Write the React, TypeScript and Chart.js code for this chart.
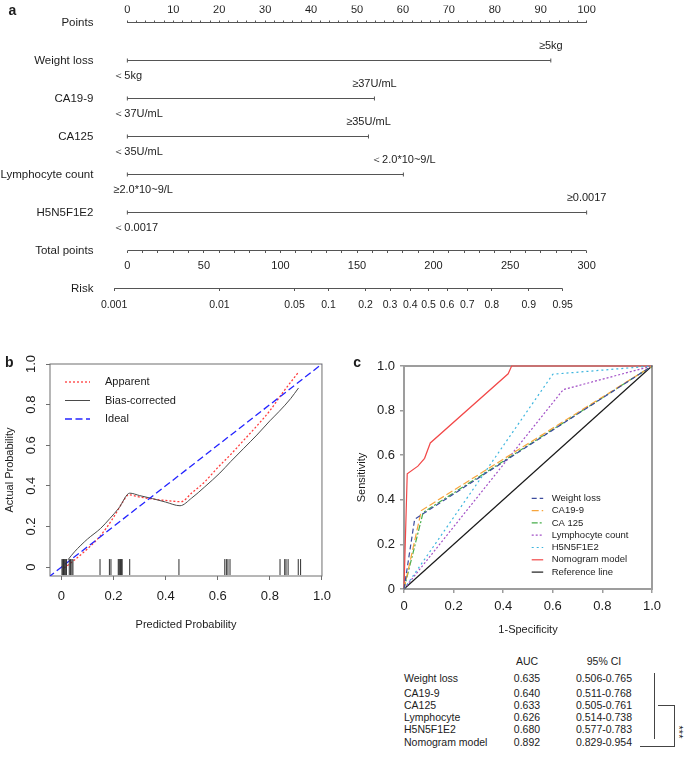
import React, { useEffect, useRef } from 'react';
import { Chart, registerables } from 'chart.js';

Chart.register(...registerables);

const FONT = "'Liberation Sans', Arial, Helvetica, sans-serif";
const INK = '#1c1c1c';
const AXIS_GRAY = '#555555';
Chart.defaults.font.family = FONT;
Chart.defaults.color = INK;

/* ---------------- a: nomogram ---------------- */
const NOMO_ROW_LABELS = ['Points', 'Weight loss', 'CA19-9', 'CA125', 'Lymphocyte count', 'H5N5F1E2', 'Total points', 'Risk'];
const NOMO_VARIABLES = ['Weight loss', 'CA19-9', 'CA125', 'Lymphocyte count', 'H5N5F1E2'];
const VAR_MAX_POINTS = [92.2, 53.8, 52.5, 60.1, 100];
const VAR_LEVEL_AT_ZERO = ['＜5kg', '＜37U/mL', '＜35U/mL', '≥2.0*10~9/L', '＜0.0017'];
const VAR_LEVEL_AT_MAX = ['≥5kg', '≥37U/mL', '≥35U/mL', '＜2.0*10~9/L', '≥0.0017'];
const POINTS_RANGE = [0, 100];
const POINTS_TICK_STEP = 2;
const POINTS_LABEL_STEP = 10;
const TOTAL_RANGE = [0, 300];
const TOTAL_TICK_STEP = 10;
const TOTAL_LABEL_STEP = 50;
const RISK_TICKS = [0.001, 0.01, 0.05, 0.1, 0.2, 0.3, 0.4, 0.5, 0.6, 0.7, 0.8, 0.9, 0.95];
const RISK_TICK_LABELS = ['0.001', '0.01', '0.05', '0.1', '0.2', '0.3', '0.4', '0.5', '0.6', '0.7', '0.8', '0.9', '0.95'];
const TOTAL_AT_RISK_HALF = 196.8;
const TOTAL_PER_LOGIT = 29.75;

/* ---------------- b: calibration ---------------- */
const CAL_APPARENT_X = [0.01, 0.05, 0.1, 0.15, 0.2, 0.235, 0.258, 0.3, 0.35, 0.4, 0.46, 0.5, 0.55, 0.6, 0.65, 0.7, 0.75, 0.8, 0.85, 0.91];
const CAL_APPARENT_Y = [-0.005, 0.035, 0.09, 0.155, 0.245, 0.32, 0.356, 0.345, 0.335, 0.328, 0.322, 0.365, 0.42, 0.49, 0.555, 0.625, 0.695, 0.77, 0.86, 0.96];
const CAL_BIAS_X = [0.025, 0.05, 0.1, 0.15, 0.185, 0.22, 0.262, 0.3, 0.35, 0.4, 0.455, 0.5, 0.55, 0.608, 0.65, 0.7, 0.75, 0.8, 0.836, 0.88, 0.91];
const CAL_BIAS_Y = [0.036, 0.075, 0.138, 0.19, 0.238, 0.29, 0.364, 0.352, 0.337, 0.32, 0.302, 0.34, 0.395, 0.463, 0.52, 0.585, 0.65, 0.72, 0.767, 0.83, 0.882];
const CAL_IDEAL = [-0.05, 1];
const CAL_RUG_X = [0.002, 0.005, 0.008, 0.011, 0.014, 0.017, 0.019, 0.03, 0.035, 0.04, 0.044, 0.148, 0.184, 0.19,
  0.218, 0.221, 0.224, 0.227, 0.23, 0.233, 0.262, 0.451, 0.627, 0.633, 0.639, 0.647, 0.839, 0.857, 0.862, 0.87, 0.909, 0.918];
const CAL_TICKS = [0, 0.2, 0.4, 0.6, 0.8, 1];
const CAL_TICK_LABELS = ['0', '0.2', '0.4', '0.6', '0.8', '1.0'];

/* ---------------- c: ROC ---------------- */
const ROC_LABELS = ['Weight loss', 'CA19-9', 'CA 125', 'Lymphocyte count', 'H5N5F1E2', 'Nomogram model', 'Reference line'];
const ROC_WEIGHT_FPR = [0, 0.043, 1];
const ROC_WEIGHT_TPR = [0, 0.313, 1];
const ROC_CA199_FPR = [0, 0.07, 1];
const ROC_CA199_TPR = [0, 0.352, 1];
const ROC_CA125_FPR = [0, 0.077, 1];
const ROC_CA125_TPR = [0, 0.343, 1];
const ROC_LYMPH_FPR = [0, 0.642, 1];
const ROC_LYMPH_TPR = [0, 0.894, 1];
const ROC_H5_FPR = [0, 0.6, 1];
const ROC_H5_TPR = [0, 0.963, 1];
const ROC_NOMO_FPR = [0, 0.013, 0.056, 0.083, 0.106, 0.42, 0.434, 1];
const ROC_NOMO_TPR = [0, 0.517, 0.551, 0.586, 0.655, 0.965, 1, 1];
const ROC_REF = [0, 1];
const ROC_TICKS = [0, 0.2, 0.4, 0.6, 0.8, 1];
const ROC_TICK_LABELS = ['0', '0.2', '0.4', '0.6', '0.8', '1.0'];

/* ---------------- table ---------------- */
const TABLE_HEADERS = ['AUC', '95% CI'];
const TABLE_NAMES = ['Weight loss', 'CA19-9', 'CA125', 'Lymphocyte', 'H5N5F1E2', 'Nomogram model'];
const TABLE_AUC = ['0.635', '0.640', '0.633', '0.626', '0.680', '0.892'];
const TABLE_CI = ['0.506-0.765', '0.511-0.768', '0.505-0.761', '0.514-0.738', '0.577-0.783', '0.829-0.954'];
const TABLE_SIGNIF = '***';

/* ---------------- helpers ---------------- */
const logit = (p: number) => Math.log(p / (1 - p));
const stepTicks = (lo: number, hi: number, step: number) => {
  const out: any[] = [];
  for (let v = lo; v <= hi + 1e-9; v += step) out.push({ value: Math.round(v * 1e6) / 1e6 });
  return out;
};
const isMultiple = (v: number, step: number) => Math.abs(v / step - Math.round(v / step)) < 1e-6;
const xy = (xs: number[], ys: number[]) => xs.map((x, i) => ({ x, y: ys[i] }));

const drawFrame = (chart: any, opts: any) => {
  const { ctx, chartArea: a } = chart;
  ctx.save();
  ctx.strokeStyle = opts.color;
  ctx.lineWidth = opts.width;
  ctx.strokeRect(a.left, a.top, a.right - a.left, a.bottom - a.top);
  ctx.restore();
};

const framePlugin = {
  id: 'frame',
  beforeDatasetsDraw(chart: any, _args: any, opts: any) {
    if (opts.under) drawFrame(chart, opts);
  },
  afterDatasetsDraw(chart: any, _args: any, opts: any) {
    if (!opts.under) drawFrame(chart, opts);
  },
};

const lineLegendPlugin = {
  id: 'lineLegend',
  afterDatasetsDraw(chart: any, _args: any, opts: any) {
    const { ctx } = chart;
    ctx.save();
    ctx.font = `${opts.fontSize}px ${FONT}`;
    ctx.textBaseline = 'middle';
    ctx.textAlign = 'left';
    opts.items.forEach((dsIndex: number, i: number) => {
      const ds = chart.data.datasets[dsIndex];
      const y = opts.y + i * opts.rowHeight;
      ctx.setLineDash(ds.borderDash || []);
      ctx.strokeStyle = ds.borderColor;
      ctx.lineWidth = opts.lineWidth || ds.borderWidth;
      ctx.beginPath();
      ctx.moveTo(opts.x, y);
      ctx.lineTo(opts.x + opts.lineLength, y);
      ctx.stroke();
      ctx.setLineDash([]);
      ctx.fillStyle = INK;
      ctx.fillText(ds.label, opts.x + opts.lineLength + opts.gap, y);
    });
    ctx.restore();
  },
};

const levelLabelPlugin = {
  id: 'levelLabels',
  afterDatasetsDraw(chart: any, _args: any, opts: any) {
    const { ctx } = chart;
    const xs = chart.scales.x;
    const ys = chart.scales.y;
    ctx.save();
    ctx.font = `${opts.fontSize}px ${FONT}`;
    ctx.fillStyle = INK;
    ctx.textBaseline = 'middle';
    NOMO_VARIABLES.forEach((name, i) => {
      const y = ys.getPixelForValue(NOMO_ROW_LABELS.indexOf(name));
      const x0 = xs.getPixelForValue(0);
      const x1 = xs.getPixelForValue(VAR_MAX_POINTS[i]);
      ctx.textAlign = 'left';
      ctx.fillText(VAR_LEVEL_AT_ZERO[i], x0 - opts.lowShift, y + opts.below);
      ctx.textAlign = 'center';
      ctx.fillText(VAR_LEVEL_AT_MAX[i], x1, y - opts.above);
    });
    ctx.restore();
  },
};

/* ---------------- configs ---------------- */
function nomogramConfig(): any {
  const margin = 4;
  const ptsMin = POINTS_RANGE[0] - margin;
  const ptsMax = POINTS_RANGE[1] + margin;
  const k = (TOTAL_RANGE[1] - TOTAL_RANGE[0]) / (POINTS_RANGE[1] - POINTS_RANGE[0]);
  const totMin = TOTAL_RANGE[0] + (ptsMin - POINTS_RANGE[0]) * k;
  const totMax = TOTAL_RANGE[0] + (ptsMax - POINTS_RANGE[0]) * k;
  const toLogit = (t: number) => (t - TOTAL_AT_RISK_HALF) / TOTAL_PER_LOGIT;
  const row = (name: string) => NOMO_ROW_LABELS.indexOf(name);
  const base = { showLine: true, borderColor: AXIS_GRAY, borderWidth: 1, pointRadius: 0, clip: false, yAxisID: 'y' };
  const tickGrid = { drawOnChartArea: false, drawTicks: true, tickLength: 2, color: AXIS_GRAY, lineWidth: 1 };
  const datasets = [
    { ...base, xAxisID: 'x', data: POINTS_RANGE.map((x) => ({ x, y: row('Points') })) },
    ...NOMO_VARIABLES.map((name, i) => ({
      ...base,
      xAxisID: 'x',
      data: [{ x: 0, y: row(name) }, { x: VAR_MAX_POINTS[i], y: row(name) }],
      pointRadius: 2,
      pointStyle: 'line',
      pointRotation: 90,
      pointBorderColor: AXIS_GRAY,
      pointBorderWidth: 1,
    })),
    { ...base, xAxisID: 'xTotal', data: TOTAL_RANGE.map((x) => ({ x, y: row('Total points') })) },
    { ...base, xAxisID: 'xRisk', data: [RISK_TICKS[0], RISK_TICKS[RISK_TICKS.length - 1]].map((p) => ({ x: logit(p), y: row('Risk') })) },
  ];
  return {
    type: 'scatter',
    data: { datasets },
    options: {
      responsive: false,
      animation: false,
      devicePixelRatio: 1,
      events: [],
      layout: { padding: { left: 0, right: 80, top: 0, bottom: 9.3 }, autoPadding: false },
      plugins: { legend: { display: false }, tooltip: { enabled: false }, levelLabels: { fontSize: 11, lowShift: 14, below: 15, above: 15 } },
      scales: {
        x: {
          type: 'linear', position: 'top', min: ptsMin, max: ptsMax, bounds: 'data',
          border: { display: false },
          grid: tickGrid,
          ticks: { autoSkip: false, maxRotation: 0, padding: 4, font: { size: 11 }, color: INK,
            callback: (v: number) => (isMultiple(v, POINTS_LABEL_STEP) ? String(Math.round(v)) : '') },
          afterBuildTicks: (s: any) => { s.ticks = stepTicks(POINTS_RANGE[0], POINTS_RANGE[1], POINTS_TICK_STEP); },
          afterFit: (s: any) => { s.height = 17; },
        },
        xTotal: {
          type: 'linear', axis: 'x', position: { y: row('Total points') }, min: totMin, max: totMax, bounds: 'data',
          border: { display: false },
          grid: tickGrid,
          ticks: { autoSkip: false, maxRotation: 0, padding: 6.5, font: { size: 11 }, color: INK,
            callback: (v: number) => (isMultiple(v, TOTAL_LABEL_STEP) ? String(Math.round(v)) : '') },
          afterBuildTicks: (s: any) => { s.ticks = stepTicks(TOTAL_RANGE[0], TOTAL_RANGE[1], TOTAL_TICK_STEP); },
        },
        xRisk: {
          type: 'linear', axis: 'x', position: { y: row('Risk') }, min: toLogit(totMin), max: toLogit(totMax), bounds: 'data',
          border: { display: false },
          grid: tickGrid,
          ticks: { autoSkip: false, maxRotation: 0, padding: 8, font: { size: 10.5 }, color: INK,
            callback: (_v: number, i: number) => RISK_TICK_LABELS[i] },
          afterBuildTicks: (s: any) => { s.ticks = RISK_TICKS.map((p) => ({ value: logit(p) })); },
        },
        y: {
          type: 'linear', position: 'left', min: 0, max: NOMO_ROW_LABELS.length - 0.5, reverse: true, bounds: 'data',
          border: { display: false },
          grid: { display: false, drawTicks: false },
          ticks: { autoSkip: false, padding: 15.6, font: { size: 11.5 }, color: INK,
            callback: (v: number) => NOMO_ROW_LABELS[Math.round(v)] ?? '' },
          afterBuildTicks: (s: any) => { s.ticks = NOMO_ROW_LABELS.map((_, i) => ({ value: i })); },
          afterFit: (s: any) => { s.width = 109; },
        },
      },
    },
    plugins: [levelLabelPlugin],
  };
}

function calibrationConfig(): any {
  const gridCal = { drawOnChartArea: false, drawTicks: true, tickLength: 4, color: '#6e6e6e', lineWidth: 1 };
  return {
    type: 'scatter',
    data: {
      datasets: [
        { label: 'Rug', data: CAL_RUG_X.map((x) => ({ x, y: 0 })), showLine: false, pointStyle: 'line', pointRotation: 90,
          pointRadius: 8, pointBorderColor: '#2e2e2e', pointBorderWidth: 1 },
        { label: 'Ideal', data: CAL_IDEAL.map((v) => ({ x: v, y: v })), showLine: true, borderColor: '#2424ff',
          borderWidth: 1.3, borderDash: [7, 3.5], pointRadius: 0 },
        { label: 'Bias-corrected', data: xy(CAL_BIAS_X, CAL_BIAS_Y), showLine: true, borderColor: '#4a4a4a',
          borderWidth: 1, pointRadius: 0, cubicInterpolationMode: 'monotone' },
        { label: 'Apparent', data: xy(CAL_APPARENT_X, CAL_APPARENT_Y), showLine: true, borderColor: '#ff3c3c',
          borderWidth: 1.3, borderDash: [2, 2], pointRadius: 0, cubicInterpolationMode: 'monotone' },
      ],
    },
    options: {
      responsive: false,
      animation: false,
      devicePixelRatio: 1,
      events: [],
      layout: { padding: { top: 34, right: 15, left: 0, bottom: 0 }, autoPadding: false },
      plugins: {
        legend: { display: false },
        tooltip: { enabled: false },
        frame: { color: '#6e6e6e', width: 1, under: true },
        lineLegend: { items: [3, 2, 1], x: 65, y: 52, rowHeight: 18.5, lineLength: 25, gap: 15, fontSize: 11 },
      },
      scales: {
        x: {
          type: 'linear', min: -0.044, max: 1, bounds: 'data',
          border: { display: false },
          grid: gridCal,
          ticks: { autoSkip: false, maxRotation: 0, padding: 9, font: { size: 13 }, color: INK,
            callback: (_v: number, i: number) => CAL_TICK_LABELS[i] },
          afterBuildTicks: (s: any) => { s.ticks = CAL_TICKS.map((value) => ({ value })); },
          afterFit: (s: any) => { s.height = 74; },
          title: { display: true, text: 'Predicted Probability', font: { size: 11 }, color: INK, padding: { top: 0, bottom: 18.4 } },
        },
        y: {
          type: 'linear', min: -0.044, max: 1, bounds: 'data',
          border: { display: false },
          grid: gridCal,
          ticks: { autoSkip: false, minRotation: 90, maxRotation: 90, crossAlign: 'center', padding: 5.3, font: { size: 13 }, color: INK,
            callback: (_v: number, i: number) => CAL_TICK_LABELS[i] },
          afterBuildTicks: (s: any) => { s.ticks = CAL_TICKS.map((value) => ({ value })); },
          afterFit: (s: any) => { s.width = 50; },
          title: { display: true, text: 'Actual Probability', font: { size: 11 }, color: INK, padding: { top: 3.4, bottom: 0 } },
        },
      },
    },
    plugins: [framePlugin, lineLegendPlugin],
  };
}

function rocConfig(): any {
  const gridRoc = { drawOnChartArea: false, drawTicks: true, tickLength: 4, color: '#9d9d9d', lineWidth: 1.5 };
  const series = [
    { fpr: ROC_WEIGHT_FPR, tpr: ROC_WEIGHT_TPR, color: '#3d4c9e', dash: [5, 3] },
    { fpr: ROC_CA199_FPR, tpr: ROC_CA199_TPR, color: '#f7a53c', dash: [7, 3] },
    { fpr: ROC_CA125_FPR, tpr: ROC_CA125_TPR, color: '#47ad4b', dash: [6, 2, 2, 2] },
    { fpr: ROC_LYMPH_FPR, tpr: ROC_LYMPH_TPR, color: '#a24fc6', dash: [2, 2] },
    { fpr: ROC_H5_FPR, tpr: ROC_H5_TPR, color: '#3db5de', dash: [2, 3] },
    { fpr: ROC_NOMO_FPR, tpr: ROC_NOMO_TPR, color: '#f24848', dash: [] },
    { fpr: ROC_REF, tpr: ROC_REF, color: '#1a1a1a', dash: [] },
  ];
  return {
    type: 'scatter',
    data: {
      datasets: series.map((s, i) => ({
        label: ROC_LABELS[i], data: xy(s.fpr, s.tpr), showLine: true, borderColor: s.color,
        borderWidth: 1.2, borderDash: s.dash, pointRadius: 0, clip: false,
      })),
    },
    options: {
      responsive: false,
      animation: false,
      devicePixelRatio: 1,
      events: [],
      layout: { padding: { top: 36, right: 33, left: 0, bottom: 0 }, autoPadding: false },
      plugins: {
        legend: { display: false },
        tooltip: { enabled: false },
        frame: { color: '#9d9d9d', width: 2, under: true },
        lineLegend: { items: [0, 1, 2, 3, 4, 5, 6], x: 191.7, y: 168.3, rowHeight: 12.3, lineLength: 11.5, gap: 8.5, fontSize: 9.5 },
      },
      scales: {
        x: {
          type: 'linear', min: 0, max: 1, bounds: 'data',
          border: { display: false },
          grid: gridRoc,
          ticks: { autoSkip: false, maxRotation: 0, padding: 5.2, font: { size: 13 }, color: INK,
            callback: (_v: number, i: number) => ROC_TICK_LABELS[i] },
          afterBuildTicks: (s: any) => { s.ticks = ROC_TICKS.map((value) => ({ value })); },
          afterFit: (s: any) => { s.height = 61; },
          title: { display: true, text: '1-Specificity', font: { size: 11 }, color: INK, padding: { top: 0, bottom: 13.4 } },
        },
        y: {
          type: 'linear', min: 0, max: 1, bounds: 'data',
          border: { display: false },
          grid: gridRoc,
          ticks: { autoSkip: false, padding: 5, font: { size: 13 }, color: INK,
            callback: (_v: number, i: number) => ROC_TICK_LABELS[i] },
          afterBuildTicks: (s: any) => { s.ticks = ROC_TICKS.map((value) => ({ value })); },
          afterFit: (s: any) => { s.width = 64; },
          title: { display: true, text: 'Sensitivity', font: { size: 11 }, color: INK, padding: { top: 15.1, bottom: 0 } },
        },
      },
    },
    plugins: [framePlugin, lineLegendPlugin],
  };
}

/* ---------------- layout pieces ---------------- */
const TABLE_HEADER_Y = 660.8;
const TABLE_ROW_Y = [677.5, 692.5, 704.5, 716.7, 729.2, 742];
const TABLE_NAME_X = 404;
const TABLE_AUC_CX = 527;
const TABLE_CI_CX = 604;

function Txt({ x, y, align = 'left', size = 10.5, children }: any) {
  const style: any = { position: 'absolute', top: y - 7, height: 14, lineHeight: '14px', fontSize: size, whiteSpace: 'nowrap' };
  if (align === 'center') {
    style.left = x - 50;
    style.width = 100;
    style.textAlign = 'center';
  } else {
    style.left = x;
  }
  return <div style={style}>{children}</div>;
}

function Rule({ left, top, width, height }: any) {
  return <div style={{ position: 'absolute', left, top, width, height, background: '#444' }} />;
}

function PanelLabel({ x, top, text }: any) {
  return (
    <div style={{ position: 'absolute', left: x, top, fontSize: 14, lineHeight: '14px', fontWeight: 'bold' }}>{text}</div>
  );
}

export default function App() {
  const nomoRef = useRef<HTMLCanvasElement>(null);
  const calRef = useRef<HTMLCanvasElement>(null);
  const rocRef = useRef<HTMLCanvasElement>(null);

  useEffect(() => {
    const charts = [
      new Chart(nomoRef.current as any, nomogramConfig()),
      new Chart(calRef.current as any, calibrationConfig()),
      new Chart(rocRef.current as any, rocConfig()),
    ];
    return () => charts.forEach((c) => c.destroy());
  }, []);

  return (
    <div style={{ position: 'absolute', left: 0, top: 0, width: 685, height: 761, background: '#fff', fontFamily: FONT, color: INK, overflow: 'hidden' }}>
      <canvas ref={nomoRef} width={685} height={330} style={{ position: 'absolute', left: 0, top: 0, width: 685, height: 330 }} />
      <canvas ref={calRef} width={340} height={320} style={{ position: 'absolute', left: 0, top: 330, width: 340, height: 320 }} />
      <canvas ref={rocRef} width={345} height={320} style={{ position: 'absolute', left: 340, top: 330, width: 345, height: 320 }} />

      <PanelLabel x={8.5} top={3.2} text="a" />
      <PanelLabel x={5} top={354.9} text="b" />
      <PanelLabel x={353.3} top={354.9} text="c" />

      <Txt x={TABLE_AUC_CX} y={TABLE_HEADER_Y} align="center">{TABLE_HEADERS[0]}</Txt>
      <Txt x={TABLE_CI_CX} y={TABLE_HEADER_Y} align="center">{TABLE_HEADERS[1]}</Txt>
      {TABLE_NAMES.map((name, i) => (
        <React.Fragment key={name}>
          <Txt x={TABLE_NAME_X} y={TABLE_ROW_Y[i]}>{name}</Txt>
          <Txt x={TABLE_AUC_CX} y={TABLE_ROW_Y[i]} align="center">{TABLE_AUC[i]}</Txt>
          <Txt x={TABLE_CI_CX} y={TABLE_ROW_Y[i]} align="center">{TABLE_CI[i]}</Txt>
        </React.Fragment>
      ))}

      <Rule left={653.5} top={673.3} width={1.3} height={66} />
      <Rule left={658} top={705.2} width={16.5} height={1.3} />
      <Rule left={673.5} top={705.2} width={1.3} height={41.5} />
      <Rule left={640} top={745.5} width={35} height={1.3} />
      <div style={{ position: 'absolute', left: 664, top: 725, width: 30, height: 14, lineHeight: '14px', fontSize: 11, textAlign: 'center', transform: 'rotate(90deg)' }}>
        {TABLE_SIGNIF}
      </div>
    </div>
  );
}
